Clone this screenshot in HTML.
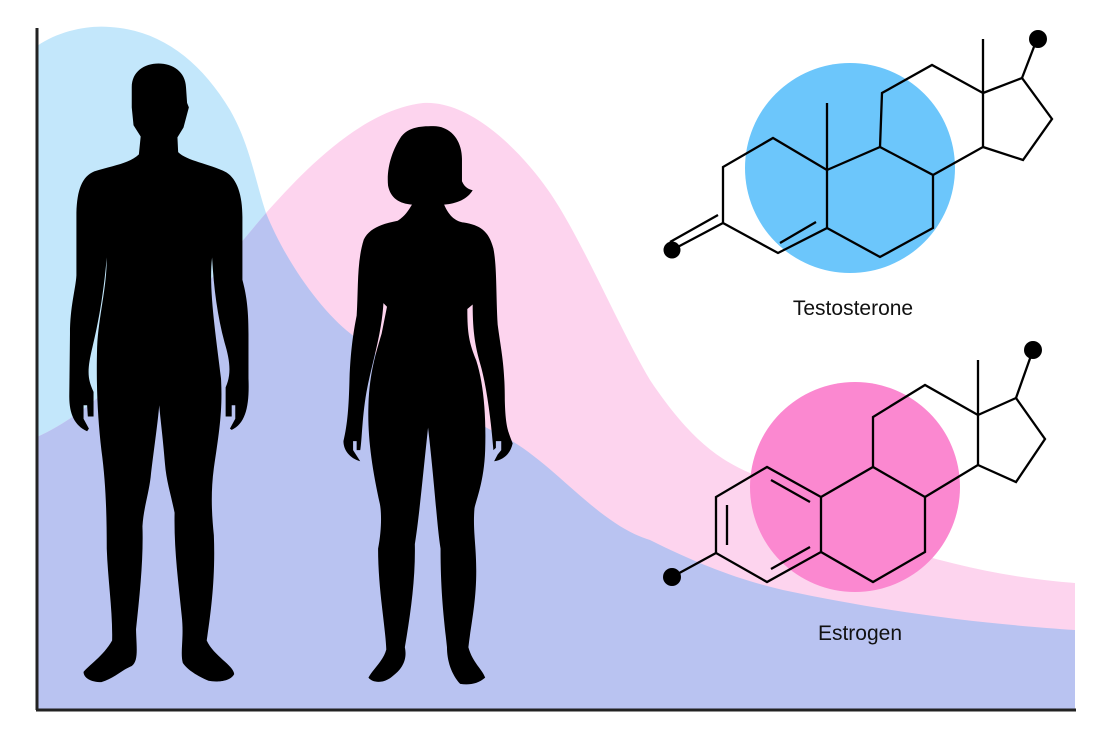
<!DOCTYPE html>
<html><head><meta charset="utf-8"><style>
html,body{margin:0;padding:0;background:#fff;}
svg{display:block;}
text{font-family:"Liberation Sans",sans-serif;}
</style></head><body>
<svg width="1100" height="733" viewBox="0 0 1100 733" xmlns="http://www.w3.org/2000/svg">
<defs>
<clipPath id="bc"><path d="M37,46 C60,30 90,25 110,27 C160,30 200,60 230,110 C250,145 255,180 266,213 C285,260 320,310 351,334 C420,390 470,420 512,441 C560,470 600,525 650,540 C700,565 740,580 783,590 C900,615 1000,625 1075,630 L1075,710 L37,710 Z"/></clipPath>
</defs>
<path fill="#c3e7fb" d="M37,46 C60,30 90,25 110,27 C160,30 200,60 230,110 C250,145 255,180 266,213 C285,260 320,310 351,334 C420,390 470,420 512,441 C560,470 600,525 650,540 C700,565 740,580 783,590 C900,615 1000,625 1075,630 L1075,710 L37,710 Z"/>
<path fill="#fdd4ee" d="M37,437 C120,400 200,290 266,213 C300,175 360,110 423,103 C470,100 520,150 548,190 C580,235 620,330 650,380 C690,440 720,460 750,473 C800,510 840,530 883,543 C950,565 1010,578 1075,583 L1075,710 L37,710 Z"/>
<path clip-path="url(#bc)" fill="#b9c3f1" d="M37,437 C120,400 200,290 266,213 C300,175 360,110 423,103 C470,100 520,150 548,190 C580,235 620,330 650,380 C690,440 720,460 750,473 C800,510 840,530 883,543 C950,565 1010,578 1075,583 L1075,710 L37,710 Z"/>

<g transform="translate(30,20) scale(0.357,0.448)" fill="#000">
<path d="M360,97 C400,97 435,115 437,150 L440,185 L445,195 L430,240 L413,262 L415,295 C440,315 500,320 550,340 C580,355 595,390 595,440 L595,580 C605,610 612,640 612,700 L612,800 C615,860 605,900 565,915 L560,912 L575,890 L575,860 L565,860 L565,885 L548,885 L548,820 C565,790 560,760 545,720 C525,660 515,600 510,530 C500,600 520,700 535,800 C540,870 530,920 515,1000 C505,1060 510,1110 515,1150 C520,1250 505,1330 495,1385 C515,1420 570,1440 572,1460 C560,1478 520,1478 500,1475 C470,1465 440,1450 428,1435 C420,1410 432,1380 425,1330 C415,1250 403,1180 405,1100 C395,1060 382,1030 378,990 C372,930 365,890 362,860 C358,900 345,970 338,1020 C332,1060 318,1090 315,1130 C318,1200 308,1280 297,1360 C298,1400 305,1430 285,1442 C255,1452 235,1470 200,1478 C170,1478 150,1468 150,1455 C165,1440 205,1420 230,1385 C232,1320 218,1250 215,1180 C215,1100 212,1030 200,960 C190,890 185,820 188,730 C192,660 215,600 215,530 C205,620 190,680 175,730 C160,780 160,800 178,830 L178,885 L162,885 L160,860 L150,860 L150,890 L165,912 L160,918 C125,905 110,880 110,840 L112,700 C112,640 128,600 130,570 L130,430 C132,380 145,350 180,338 C230,325 280,320 305,300 L310,260 L290,235 L285,195 L285,150 C285,115 320,97 360,97 Z"/>
<path d="M1130,237 C1180,237 1210,270 1210,310 L1210,360 C1218,375 1230,378 1240,380 C1225,400 1195,410 1160,412 C1175,440 1195,450 1215,452 C1260,458 1285,470 1298,510 C1308,550 1305,610 1310,680 C1320,740 1330,770 1330,850 C1332,910 1340,920 1352,945 C1345,970 1325,982 1300,985 L1310,970 L1320,960 L1320,940 L1305,940 L1305,955 L1298,960 C1292,900 1280,820 1262,770 C1248,730 1240,700 1240,635 L1225,645 C1225,700 1230,720 1250,760 C1270,810 1278,880 1275,960 C1272,1030 1250,1070 1245,1090 C1240,1140 1250,1170 1250,1230 C1250,1300 1235,1350 1228,1400 C1240,1435 1268,1450 1275,1468 C1255,1482 1230,1485 1205,1482 C1180,1460 1168,1430 1168,1400 C1160,1340 1150,1280 1150,1180 C1140,1130 1135,1050 1115,910 C1100,1020 1090,1110 1078,1170 C1080,1250 1065,1330 1050,1400 C1058,1430 1040,1450 1015,1465 C990,1482 960,1480 948,1468 C960,1450 990,1430 998,1405 C995,1350 975,1270 975,1180 C985,1140 985,1100 980,1080 C958,1000 945,930 948,860 C950,790 970,740 985,700 L1000,640 L990,632 C985,700 960,760 945,820 C930,880 930,940 925,960 L915,960 L915,940 L905,940 L905,960 L925,985 C895,978 878,960 878,940 C890,900 893,860 895,800 C898,740 905,700 915,660 C920,600 915,540 935,490 C950,465 985,455 1030,448 C1050,438 1060,425 1070,412 C1035,410 1010,398 1003,370 C998,330 1015,290 1040,260 C1060,240 1090,237 1130,237 Z"/>
</g>

<line x1="37" y1="28" x2="37" y2="710" stroke="#222" stroke-width="3"/>
<line x1="36" y1="710" x2="1076" y2="710" stroke="#222" stroke-width="3"/>

<circle cx="850" cy="168" r="105" fill="#6cc6fb"/>
<g fill="none" stroke="#000" stroke-width="2.3" stroke-linejoin="miter">
<path d="M723,223 L723,167 L773,138 L827,170 L827,228 L778,253 L723,223"/>
<path d="M827,170 L827,103"/>
<path d="M827,170 L880,147 L933,175 L933,228 L880,257 L827,228"/>
<path d="M880,147 L882,93 L932,65 L983,93 L983,147 L933,175"/>
<path d="M983,93 L983,39"/>
<path d="M983,93 L1022,78 L1052,119 L1023,160 L983,147"/>
<path d="M1022,78 L1037,39"/>
<path d="M780,243 L816,222"/>
<path d="M723,223 L672,250 M718,215 L670,242"/>
</g>
<circle cx="672" cy="250" r="8.5" fill="#000"/>
<circle cx="1038" cy="39" r="9" fill="#000"/>
<text x="853" y="315" font-size="21" text-anchor="middle" fill="#111">Testosterone</text>

<circle cx="855" cy="487" r="105" fill="#fb88d0"/>
<g fill="none" stroke="#000" stroke-width="2.3">
<path d="M716,553 L716,497 L767,467 L821,497 L821,552 L767,582 Z"/>
<path d="M727,505 L727,545 M771,480 L810,502 M771,569 L810,547"/>
<path d="M821,497 L873,467 L925,497 L925,552 L873,582 L821,552"/>
<path d="M873,467 L873,417 L925,385 L978,415 L978,465 L925,497"/>
<path d="M978,415 L978,360"/>
<path d="M978,415 L1016,398 L1045,439 L1016,482 L978,465"/>
<path d="M1016,398 L1033,350"/>
<path d="M716,553 L672,577"/>
</g>
<circle cx="672" cy="577" r="9" fill="#000"/>
<circle cx="1033" cy="350" r="9" fill="#000"/>
<text x="860" y="640" font-size="21" text-anchor="middle" fill="#111">Estrogen</text>
</svg>
</body></html>
